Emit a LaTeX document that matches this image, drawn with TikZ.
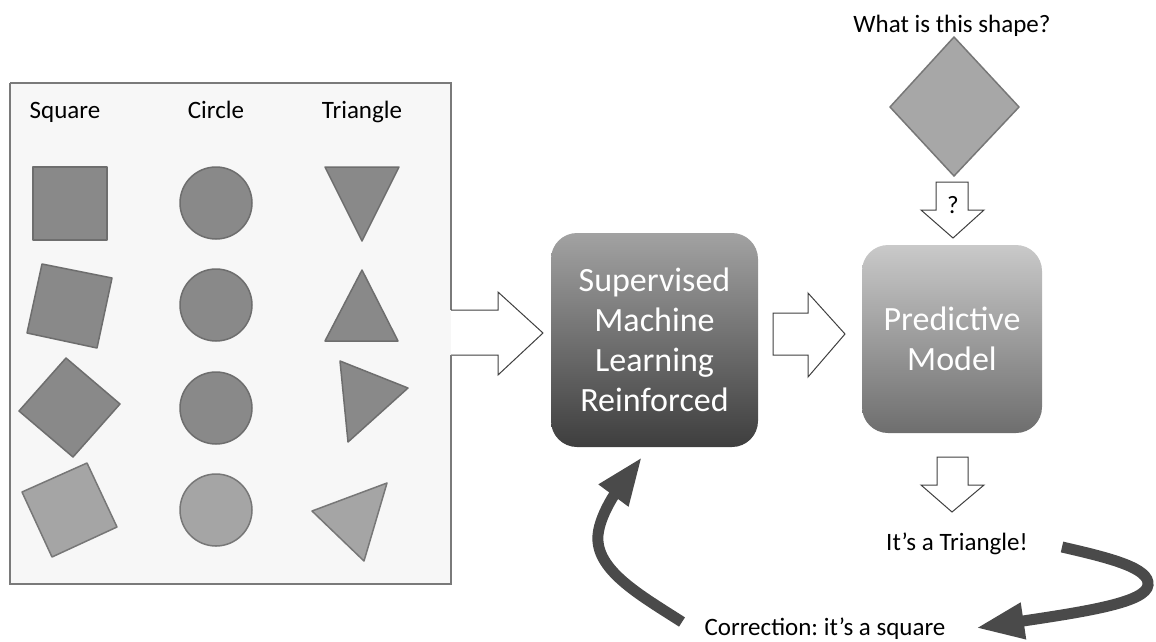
\documentclass[tikz,border=0pt]{standalone}
\usepackage{fontspec}
\setmainfont{Carlito}
\usetikzlibrary{arrows.meta}
\definecolor{shapefill}{HTML}{898989}
\definecolor{shapeedge}{HTML}{6E6E6E}
\definecolor{lightfill}{HTML}{A5A5A5}
\definecolor{lightedge}{HTML}{777777}
\definecolor{paneledge}{HTML}{7A7A7A}
\definecolor{panelfill}{HTML}{F7F7F7}
\definecolor{curvecol}{HTML}{4A4A4A}
\definecolor{smltop}{HTML}{A2A2A2}
\definecolor{smlbot}{HTML}{3E3E3E}
\definecolor{pmtop}{HTML}{C9C9C9}
\definecolor{pmbot}{HTML}{6E6E6E}
\definecolor{diafill}{HTML}{A7A7A7}
\frenchspacing
\begin{document}
\begin{tikzpicture}[x=1pt,y=-1pt,
  shp/.style={fill=shapefill,draw=shapeedge,line width=1.5pt,line join=round},
  lshp/.style={fill=lightfill,draw=lightedge,line width=1.5pt,line join=round},
  lbl/.style={font=\fontsize{25}{30}\selectfont,inner sep=0pt,anchor=base},
  boxtxt/.style={font=\fontsize{34}{40}\selectfont,text=white,align=center,rounded corners=26pt,inner sep=0pt},
  blockarrow/.style={fill=white,draw=black!75,line width=1pt,line join=miter},
  curvearrow/.style={draw=curvecol,line width=11pt,-{Triangle[length=48pt,width=34pt]}}]
\useasboundingbox (0,0) rectangle (1156,641);

% panel with merged block arrow
\fill[panelfill] (10,83) rectangle (451,584);
\fill[white] (451,310) -- (498,310) -- (498,292) -- (543,333) -- (498,375) -- (498,355) -- (451,355) -- cycle;
\draw[paneledge,line width=1.5pt] (10,83) -- (451,83) -- (451,310);
\draw[black!75,line width=1pt,line join=miter] (451,310) -- (498,310) -- (498,292) -- (543,333) -- (498,375) -- (498,355) -- (451,355);
\draw[paneledge,line width=1.5pt] (451,355) -- (451,584) -- (10,584) -- (10,83);

% headers
\node[lbl] (hsq) at (65,118) {Square};
\node[lbl] (hci) at (216,118) {Circle};
\node[lbl] (htr) at (362,118) {Triangle};

% row 1
\draw[shp] (33,167) rectangle (107,240);
\draw[shp] (216,203) circle (36);
\draw[shp] (325,167) -- (399,167) -- (362,241) -- cycle;
% row 2
\draw[shp] (42,264) -- (112,278) -- (97,348) -- (27,333) -- cycle;
\draw[shp] (216,305) circle (36);
\draw[shp] (362,270) -- (398,341) -- (325,341) -- cycle;
% row 3
\draw[shp] (66,358) -- (120,404) -- (73,457) -- (19,411) -- cycle;
\draw[shp] (216,408) circle (36);
\draw[shp] (340,361) -- (408,388) -- (348,442) -- cycle;
% row 4
\draw[lshp] (87,463) -- (117,527) -- (52,557) -- (22,492) -- cycle;
\draw[lshp] (216,510) circle (36);
\draw[lshp] (312,511) -- (387,483) -- (364,561) -- cycle;

% supervised machine learning box
\node[boxtxt,top color=smltop,bottom color=smlbot,minimum width=207pt,minimum height=214pt] (sml) at (654.5,340) {Supervised\\Machine\\Learning\\Reinforced};

% arrow between boxes
\draw[blockarrow] (773,313) -- (808,313) -- (808,293) -- (845,334) -- (808,377) -- (808,355) -- (773,355) -- cycle;

% predictive model box
\node[boxtxt,top color=pmtop,bottom color=pmbot,minimum width=180pt,minimum height=188pt] (pm) at (952,339) {Predictive\\Model};

% query
\node[lbl] (what) at (952,32) {What is this shape?};
\draw[fill=diafill,draw=lightedge,line width=1.5pt,line join=round] (954,37) -- (1019,107) -- (954,176) -- (890,107) -- cycle;
\draw[blockarrow] (936,182) -- (968,182) -- (968,210) -- (984,210) -- (953,238) -- (921,210) -- (936,210) -- cycle;
\node[lbl] (qm) at (953,213) {?};

% output
\draw[blockarrow] (937,457) -- (968,457) -- (968,485) -- (984,485) -- (952,512) -- (921,485) -- (937,485) -- cycle;
\node[lbl] (tri) at (957,550) {It’s a Triangle!};
\node[lbl] (corr) at (825,635) {Correction: it’s a square};

% feedback arrows
\coordinate (r1) at (1062,547);
\coordinate (r2) at (976,628);
\draw[curvearrow] (r1) .. controls (1110,558) and (1150,568) .. (1148,585) .. controls (1146,602) and (1090,611) .. (r2);
\coordinate (l1) at (682,622);
\coordinate (l2) at (642,457);
\draw[curvearrow] (l1) .. controls (640,595) and (595,570) .. (598,535) .. controls (600,512) and (622,484) .. (l2);
\end{tikzpicture}
\end{document}
